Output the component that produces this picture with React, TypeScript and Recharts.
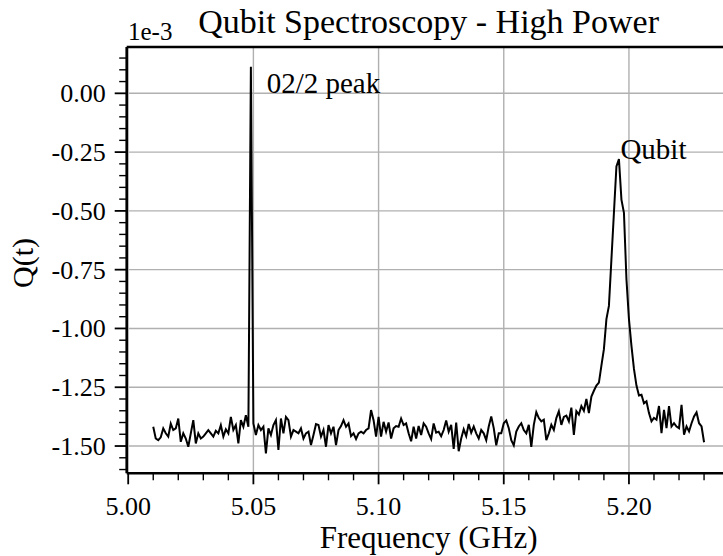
import React from 'react'
import {
  LineChart,
  Line,
  XAxis,
  YAxis,
  ReferenceLine,
  ReferenceDot
} from 'recharts'

// frequency in GHz, Q(t) in units of 1e-3
const freq = [
  5.010, 5.011, 5.012, 5.013, 5.014, 5.015, 5.016, 5.017, 5.018, 5.019,
  5.020, 5.021, 5.022, 5.023, 5.024, 5.025, 5.026, 5.027, 5.028, 5.029,
  5.030, 5.031, 5.032, 5.033, 5.034, 5.035, 5.036, 5.037, 5.038, 5.039,
  5.040, 5.041, 5.042, 5.043, 5.044, 5.045, 5.046, 5.047, 5.048, 5.049,
  5.050, 5.051, 5.052, 5.053, 5.054, 5.055, 5.056, 5.057, 5.058, 5.059,
  5.060, 5.061, 5.062, 5.063, 5.064, 5.065, 5.066, 5.067, 5.068, 5.069,
  5.070, 5.071, 5.072, 5.073, 5.074, 5.075, 5.076, 5.077, 5.078, 5.079,
  5.080, 5.081, 5.082, 5.083, 5.084, 5.085, 5.086, 5.087, 5.088, 5.089,
  5.090, 5.091, 5.092, 5.093, 5.094, 5.095, 5.096, 5.097, 5.098, 5.099,
  5.100, 5.101, 5.102, 5.103, 5.104, 5.105, 5.106, 5.107, 5.108, 5.109,
  5.110, 5.111, 5.112, 5.113, 5.114, 5.115, 5.116, 5.117, 5.118, 5.119,
  5.120, 5.121, 5.122, 5.123, 5.124, 5.125, 5.126, 5.127, 5.128, 5.129,
  5.130, 5.131, 5.132, 5.133, 5.134, 5.135, 5.136, 5.137, 5.138, 5.139,
  5.140, 5.141, 5.142, 5.143, 5.144, 5.145, 5.146, 5.147, 5.148, 5.149,
  5.150, 5.151, 5.152, 5.153, 5.154, 5.155, 5.156, 5.157, 5.158, 5.159,
  5.160, 5.161, 5.162, 5.163, 5.164, 5.165, 5.166, 5.167, 5.168, 5.169,
  5.170, 5.171, 5.172, 5.173, 5.174, 5.175, 5.176, 5.177, 5.178, 5.179,
  5.180, 5.181, 5.182, 5.183, 5.184, 5.185, 5.186, 5.187, 5.188, 5.189,
  5.190, 5.191, 5.192, 5.193, 5.194, 5.195, 5.196, 5.197, 5.198, 5.199,
  5.200, 5.201, 5.202, 5.203, 5.204, 5.205, 5.206, 5.207, 5.208, 5.209,
  5.210, 5.211, 5.212, 5.213, 5.214, 5.215, 5.216, 5.217, 5.218, 5.219,
  5.220, 5.221, 5.222, 5.223, 5.224, 5.225, 5.226, 5.227, 5.228, 5.229,
  5.230
]

const qValues = [
  -1.418, -1.468, -1.475, -1.463, -1.425, -1.446, -1.460, -1.405, -1.432, -1.425,
  -1.383, -1.482, -1.446, -1.468, -1.503, -1.446, -1.390, -1.489, -1.446, -1.468,
  -1.460, -1.446, -1.432, -1.446, -1.460, -1.435, -1.446, -1.411, -1.460, -1.429,
  -1.446, -1.376, -1.432, -1.411, -1.489, -1.390, -1.418, -1.369, -1.418, 0.113,
  -1.404, -1.453, -1.411, -1.432, -1.418, -1.531, -1.425, -1.453, -1.411, -1.390,
  -1.517, -1.383, -1.446, -1.376, -1.390, -1.460, -1.432, -1.439, -1.446, -1.425,
  -1.468, -1.446, -1.439, -1.496, -1.453, -1.407, -1.411, -1.460, -1.432, -1.503,
  -1.411, -1.446, -1.418, -1.496, -1.432, -1.415, -1.390, -1.418, -1.404, -1.458,
  -1.446, -1.470, -1.446, -1.439, -1.446, -1.432, -1.425, -1.347, -1.390, -1.460,
  -1.376, -1.460, -1.397, -1.439, -1.400, -1.468, -1.425, -1.415, -1.418, -1.383,
  -1.411, -1.404, -1.446, -1.480, -1.418, -1.468, -1.415, -1.453, -1.404, -1.418,
  -1.446, -1.470, -1.404, -1.443, -1.439, -1.458, -1.432, -1.391, -1.439, -1.410,
  -1.512, -1.400, -1.522, -1.468, -1.429, -1.458, -1.406, -1.443, -1.417, -1.446,
  -1.468, -1.432, -1.446, -1.475, -1.417, -1.374, -1.424, -1.497, -1.446, -1.446,
  -1.403, -1.391, -1.424, -1.475, -1.497, -1.439, -1.417, -1.403, -1.432, -1.446,
  -1.410, -1.504, -1.410, -1.356, -1.381, -1.395, -1.388, -1.475, -1.446, -1.410,
  -1.432, -1.381, -1.352, -1.410, -1.376, -1.371, -1.395, -1.337, -1.453, -1.352,
  -1.366, -1.330, -1.350, -1.300, -1.360, -1.290, -1.265, -1.243, -1.230, -1.158,
  -1.088, -0.960, -0.904, -0.706, -0.508, -0.311, -0.280, -0.452, -0.508, -0.790,
  -0.960, -1.074, -1.172, -1.243, -1.285, -1.282, -1.318, -1.310, -1.360, -1.395,
  -1.380, -1.388, -1.330, -1.445, -1.346, -1.424, -1.330, -1.417, -1.403, -1.417,
  -1.424, -1.325, -1.452, -1.417, -1.438, -1.403, -1.374, -1.357, -1.403, -1.417,
  -1.484
]

const xMajor = [5.0, 5.05, 5.1, 5.15, 5.2]
const xTicks = [
  5.0, 5.01, 5.02, 5.03, 5.04, 5.05, 5.06, 5.07, 5.08, 5.09,
  5.1, 5.11, 5.12, 5.13, 5.14, 5.15, 5.16, 5.17, 5.18, 5.19,
  5.2, 5.21, 5.22, 5.23, 5.24
]
const yMajor = [-1.5, -1.25, -1.0, -0.75, -0.5, -0.25, 0.0]
const yTicks = [
  -1.6, -1.55, -1.5, -1.45, -1.4, -1.35, -1.3, -1.25, -1.2, -1.15,
  -1.1, -1.05, -1.0, -0.95, -0.9, -0.85, -0.8, -0.75, -0.7, -0.65,
  -0.6, -0.55, -0.5, -0.45, -0.4, -0.35, -0.3, -0.25, -0.2, -0.15,
  -0.1, -0.05, 0.0, 0.05, 0.1, 0.15
]

const annotations = [
  { x: 5.0553, y: 0.0, text: '02/2 peak' },
  { x: 5.1966, y: -0.28, text: 'Qubit' }
]

const data = freq.map((f, i) => ({ f, q: qValues[i] }))

const X_DOMAIN: [number, number] = [4.9994, 5.2406]
const Y_DOMAIN: [number, number] = [-1.616, 0.197]
const FONT = '"Liberation Serif", "Times New Roman", serif'

const isMajor = (list: number[], v: number) => list.some((m) => Math.abs(m - v) < 1e-6)

function XTick(props: any) {
  const { x, y, payload } = props
  const v = payload.value as number
  const major = isMajor(xMajor, v)
  return (
    <g>
      <line x1={x} x2={x} y1={y} y2={y + (major ? 11 : 7)} stroke="#000" strokeWidth={major ? 1.8 : 1.4} />
      {major && (
        <text x={x} y={y + 42} textAnchor="middle" fontFamily={FONT} fontSize={26} fill="#000">
          {v.toFixed(2)}
        </text>
      )}
    </g>
  )
}

function YTick(props: any) {
  const { x, y, payload } = props
  const v = payload.value as number
  const major = isMajor(yMajor, v)
  return (
    <g>
      <line x1={x} x2={x - (major ? 12 : 7.5)} y1={y} y2={y} stroke="#000" strokeWidth={major ? 1.8 : 1.4} />
      {major && (
        <text x={x - 21} y={y + 9} textAnchor="end" fontFamily={FONT} fontSize={26} fill="#000">
          {v.toFixed(2)}
        </text>
      )}
    </g>
  )
}

function AnnotationText({ cx, cy, text }: any) {
  return (
    <text x={cx} y={cy} fontFamily={FONT} fontSize={29} fill="#000">
      {text}
    </text>
  )
}

export default function App() {
  return (
    <div style={{ position: 'absolute', left: 0, top: 0, width: 723, height: 556, overflow: 'hidden', background: '#fff' }}>
      <LineChart
        width={760}
        height={556}
        data={data}
        margin={{ top: 47, right: 29.4, bottom: 81.7, left: 125.7 }}
      >
        <XAxis
          dataKey="f"
          type="number"
          domain={X_DOMAIN}
          allowDataOverflow
          ticks={xTicks}
          interval={0}
          height={1}
          tickSize={0}
          tickMargin={0}
          tickLine={false}
          tick={XTick}
          axisLine={{ stroke: '#000', strokeWidth: 2.6 }}
        />
        <YAxis
          type="number"
          domain={Y_DOMAIN}
          allowDataOverflow
          ticks={yTicks}
          interval={0}
          width={1}
          tickSize={0}
          tickMargin={0}
          tickLine={false}
          tick={YTick}
          axisLine={{ stroke: '#000', strokeWidth: 2.6 }}
        />
        {xMajor.map((v) => (
          <ReferenceLine key={'gx' + v} x={v} stroke="#b0b0b0" strokeWidth={1.4} />
        ))}
        {yMajor.map((v) => (
          <ReferenceLine key={'gy' + v} y={v} stroke="#b0b0b0" strokeWidth={1.4} />
        ))}
        <ReferenceLine y={Y_DOMAIN[1]} stroke="#000" strokeWidth={2.6} />
        <Line
          type="linear"
          dataKey="q"
          stroke="#000"
          strokeWidth={2}
          dot={false}
          isAnimationActive={false}
        />
        {annotations.map((a) => (
          <ReferenceDot
            key={a.text}
            x={a.x}
            y={a.y}
            r={0}
            shape={(p: any) => <AnnotationText {...p} text={a.text} />}
          />
        ))}
      </LineChart>
      <svg
        width={723}
        height={556}
        style={{ position: 'absolute', left: 0, top: 0, pointerEvents: 'none' }}
      >
        <text x={428.6} y={33} textAnchor="middle" fontFamily={FONT} fontSize={34} fill="#000">
          Qubit Spectroscopy - High Power
        </text>
        <text x={128} y={40} fontFamily={FONT} fontSize={25} fill="#000">
          1e-3
        </text>
        <text x={428.6} y={548} textAnchor="middle" fontFamily={FONT} fontSize={31} fill="#000">
          Frequency (GHz)
        </text>
        <text
          x={33}
          y={263}
          textAnchor="middle"
          transform="rotate(-90 33 263)"
          fontFamily={FONT}
          fontSize={30}
          fill="#000"
        >
          Q(t)
        </text>
      </svg>
    </div>
  )
}
